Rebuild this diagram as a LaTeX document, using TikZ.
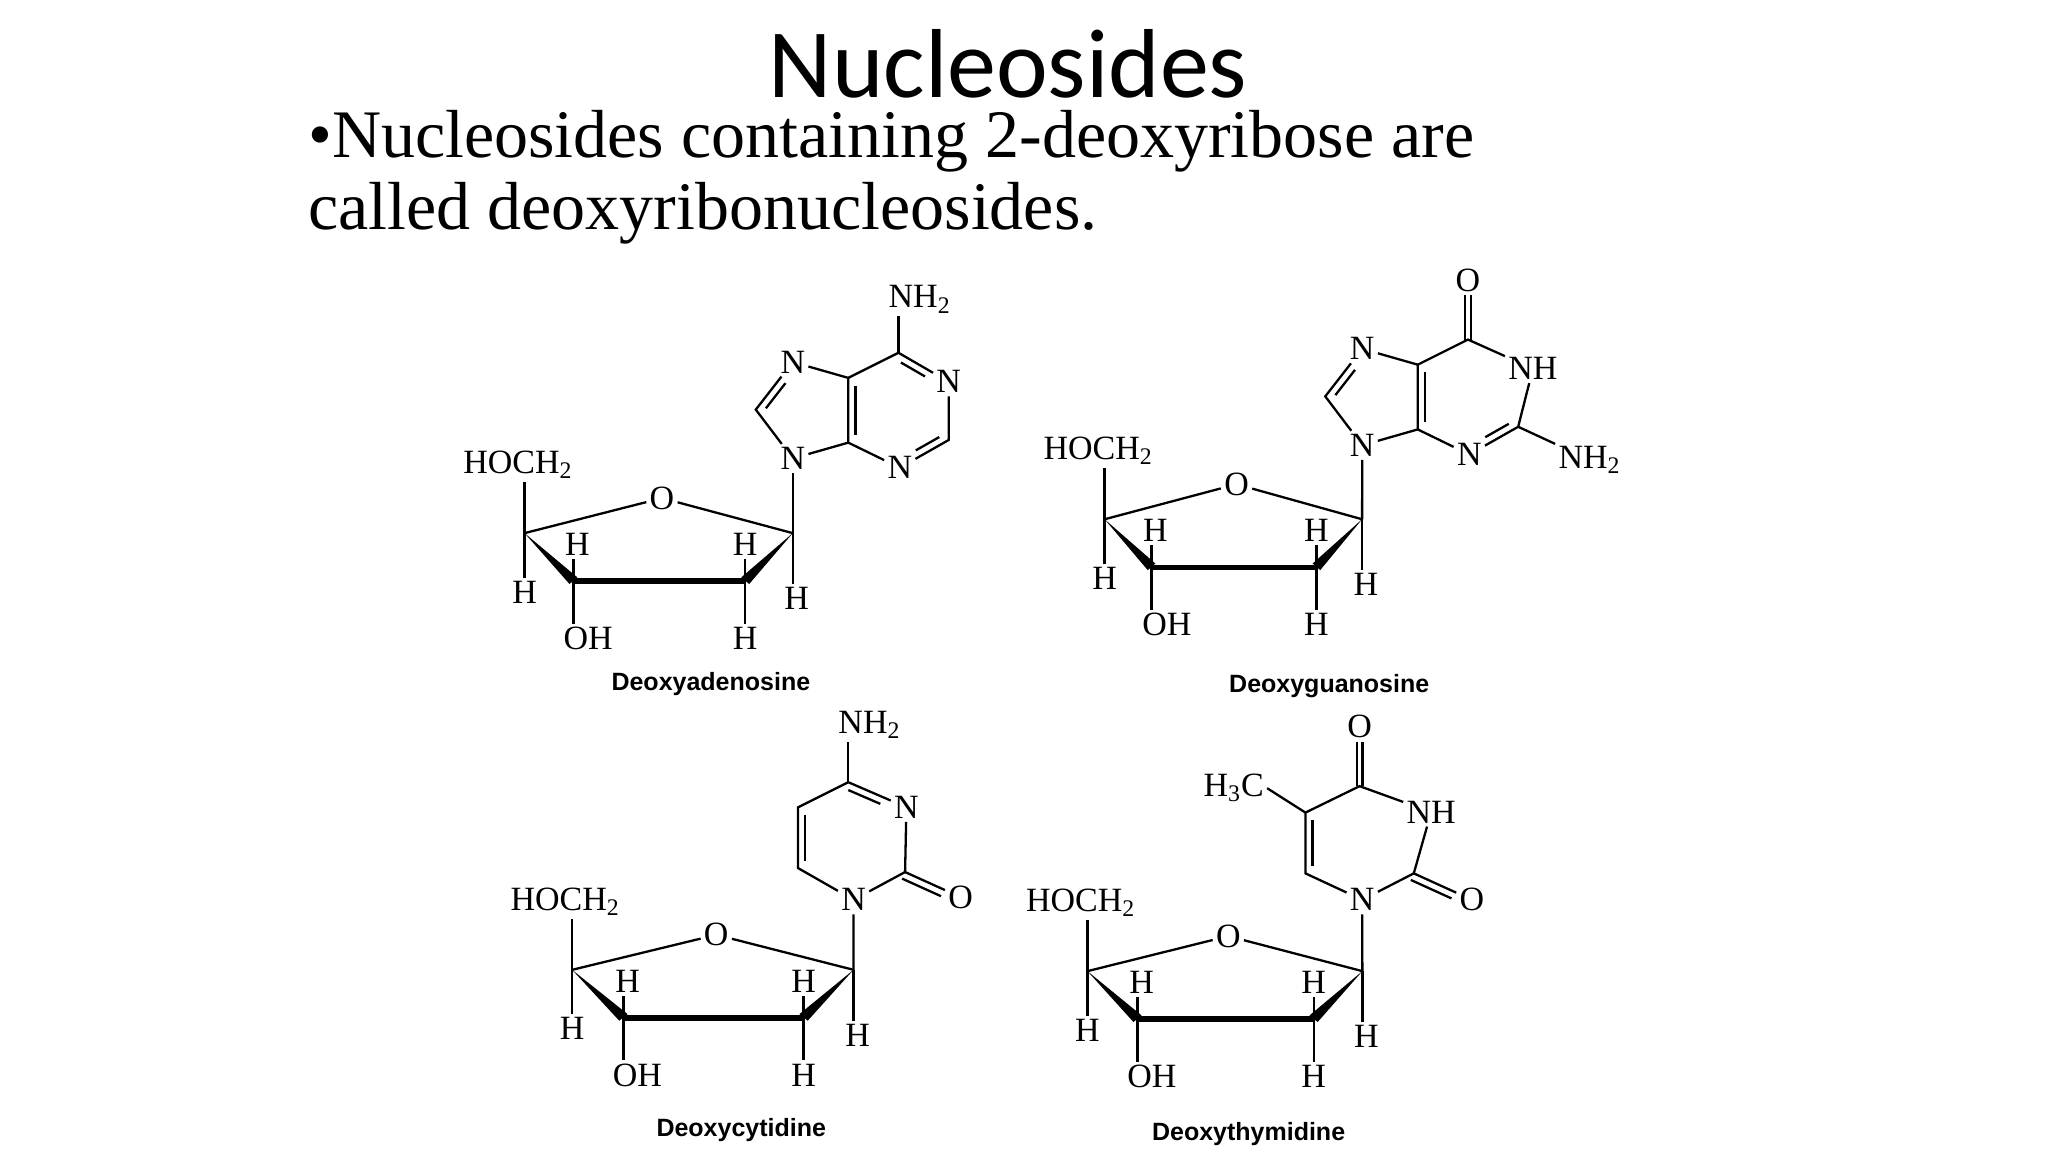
\documentclass[tikz,border=0pt]{standalone}
\usepackage{fontspec}
\setmainfont{Liberation Serif}
\newfontfamily\titlefont{Carlito}
\newfontfamily\labfont{Liberation Sans}
\usetikzlibrary{calc}
\newcommand\atomfont{\fontsize{17}{17}\selectfont}
\tikzset{
  atom/.style={font=\atomfont, inner sep=1.5pt},
  bond/.style={line width=1.15pt},
  thickbond/.style={line width=2.9pt},
  lab/.style={font=\labfont\bfseries\fontsize{12.5}{12.5}\selectfont},
}
% #1 a, #2 b, #3 angle, #4 frac at a, #5 frac at b
\newcommand\dbl[5]{\draw[bond] ($(#1)!#4!(#2)!3.6pt!#3:(#2)$) -- ($(#2)!#5!(#1)!3.6pt!-#3:(#1)$);}
\newcommand\sugar[4]{%
\begin{scope}[shift={(#2,#3)}, xscale=#4]
\coordinate (#1c4) at (0,0);
\node[atom] (#1O) at (104,-26.5) {O};
\coordinate (#1c1) at (203,0);
\coordinate (#1c3) at (37,36.5);
\coordinate (#1c2) at (167,36.5);
\node[atom,anchor=base] (#1hoch) at (-5,-45) {HOCH\textsubscript{2}};
\node[atom,anchor=base] (#1h4) at (0,53) {H};
\node[atom,anchor=base] (#1h3) at (40,17) {H};
\node[atom,anchor=base west] (#1oh) at (27,88) {OH};
\node[atom,anchor=base] (#1h2a) at (167,17) {H};
\node[atom,anchor=base] (#1h2b) at (167,88) {H};
\node[atom,anchor=base] (#1h1) at (206,58) {H};
\draw[bond] (#1c4) -- (#1O) -- (#1c1);
\fill (#1c4) -- (34,38.5) -- (40,33.5) -- cycle;
\fill (#1c1) -- (170,38.5) -- (164,33.5) -- cycle;
\draw[thickbond] (#1c3) -- (#1c2);
\draw[bond] (#1c4) -- (#1c4 |- #1hoch.south);
\draw[bond] (#1c4) -- (#1c4 |- #1h4.north);
\draw[bond] (#1c3) -- (#1c3 |- #1h3.south);
\draw[bond] (#1c3) -- (#1c3 |- #1oh.north);
\draw[bond] (#1c2) -- (#1c2 |- #1h2a.south);
\draw[bond] (#1c2) -- (#1c2 |- #1h2b.north);
\draw[bond] (#1c1) -- (#1c1 |- #1h1.north);
\end{scope}}
\begin{document}
\begin{tikzpicture}[x=0.6607pt,y=-0.6607pt]
\useasboundingbox (0,0) rectangle (1550,872);
\fill[white] (0,0) rectangle (1550,872);
% titles
\node[font=\titlefont\fontsize{49}{49}\selectfont, anchor=base, inner sep=0] (title) at (763,74) {Nucleosides};
\node[font=\fontsize{34}{34}\selectfont, anchor=base west, inner sep=0] (l1) at (233,119) {•Nucleosides containing 2-deoxyribose are};
\node[font=\fontsize{34}{34}\selectfont, anchor=base west, inner sep=0] (l2) at (233,174) {called deoxyribonucleosides.};

% ===== Deoxyadenosine
\sugar{a}{397}{403.5}{1}
\begin{scope}[shift={(600,347)}]
\node[atom] (aN9) at (0,0) {N};
\coordinate (aC8) at (-28,-37);
\node[atom] (aN7) at (0,-73) {N};
\coordinate (aC5) at (42,-61);
\coordinate (aC4) at (42,-12);
\coordinate (aC6) at (80,-80);
\node[atom,anchor=base west] (aNH2) at (70,-114) {NH\textsubscript{2}};
\node[atom] (aN1) at (118,-58) {N};
\coordinate (aC2) at (118,-14);
\node[atom] (aN3) at (81,7) {N};
\end{scope}
\draw[bond] (ac1) -- (aN9);
\draw[bond] (aN9) -- (aC8) -- (aN7) -- (aC5) -- (aC4) -- (aN9);
\draw[bond] (aC5) -- (aC6) -- (aN1) -- (aC2) -- (aN3) -- (aC4);
\draw[bond] (aC6) -- (aC6 |- aNH2.south);
\dbl{aC8}{aN7}{-90}{0.12}{0.35}
\dbl{aC5}{aC4}{90}{0.12}{0.12}
\dbl{aC6}{aN1}{-90}{0.12}{0.4}
\dbl{aC2}{aN3}{-90}{0.12}{0.4}
\node[lab] (alab) at (538,518) {Deoxyadenosine};

% ===== Deoxyguanosine
\sugar{g}{836}{393}{0.96}
\begin{scope}[shift={(1031,337)}]
\node[atom] (gN9) at (0,0) {N};
\coordinate (gC8) at (-28,-37);
\node[atom] (gN7) at (0,-73) {N};
\coordinate (gC5) at (42,-61);
\coordinate (gC4) at (42,-12);
\coordinate (gC6) at (80,-80);
\node[atom] (gO6) at (80,-125) {O};
\node[atom,anchor=west] (gN1) at (108,-58) {NH};
\coordinate (gC2) at (118,-14);
\node[atom] (gN3) at (81,7) {N};
\node[atom,anchor=west] (gNH2) at (146,11) {NH\textsubscript{2}};
\end{scope}
\draw[bond] (gc1) -- (gN9);
\draw[bond] (gN9) -- (gC8) -- (gN7) -- (gC5) -- (gC4) -- (gN9);
\draw[bond] (gC5) -- (gC6) -- (gN1) -- (gC2) -- (gN3) -- (gC4);
\draw[bond] (gC2) -- (gNH2);
\draw[bond] ($(gC6)+(-2.2,0)$) -- ($(gO6.south)+(-2.2,0)$);
\draw[bond] ($(gC6)+(2.2,0)$) -- ($(gO6.south)+(2.2,0)$);
\dbl{gC8}{gN7}{-90}{0.12}{0.35}
\dbl{gC5}{gC4}{90}{0.12}{0.12}
\dbl{gC2}{gN3}{-90}{0.12}{0.4}
\node[lab] (glab) at (1006,519) {Deoxyguanosine};

% ===== Deoxycytidine
\sugar{c}{433}{734}{1.049}
\begin{scope}[shift={(646,681)}]
\node[atom] (cN1) at (0,0) {N};
\coordinate (cC6) at (-42,-24);
\coordinate (cC5) at (-42,-70);
\coordinate (cC4) at (-4,-89);
\node[atom,anchor=base west] (cNH2) at (-14,-126) {NH\textsubscript{2}};
\node[atom] (cN3) at (40,-70) {N};
\coordinate (cC2) at (39,-21);
\node[atom] (cO2) at (81,-2) {O};
\end{scope}
\draw[bond] (cc1) -- (cN1);
\draw[bond] (cN1) -- (cC6) -- (cC5) -- (cC4) -- (cN3) -- (cC2) -- (cN1);
\draw[bond] (cC4) -- (cC4 |- cNH2.south);
\draw[bond] (cC2) -- (cO2);
\dbl{cC6}{cC5}{-90}{0.12}{0.12}
\dbl{cC4}{cN3}{-90}{0.05}{0.4}
\dbl{cC2}{cO2}{-90}{0.0}{0.3}
\node[lab] (clab) at (561,855) {Deoxycytidine};

% ===== Deoxythymidine
\sugar{t}{823}{735}{1.025}
\begin{scope}[shift={(1031,681)}]
\node[atom] (tN1) at (0,0) {N};
\coordinate (tC6) at (-43,-20);
\coordinate (tC5) at (-43,-66);
\coordinate (tC4) at (-2,-86);
\node[atom] (tO4) at (-2,-131) {O};
\node[atom,anchor=base west] (tN3) at (31,-58) {NH};
\coordinate (tC2) at (39,-20);
\node[atom] (tO2) at (83,0) {O};
\node[atom,anchor=base east] (tMe) at (-72,-78) {H\textsubscript{3}C};
\end{scope}
\draw[bond] (tc1) -- (tN1);
\draw[bond] (tN1) -- (tC6) -- (tC5) -- (tC4) -- (tN3) -- (tC2) -- (tN1);
\draw[bond] (tC5) -- (tMe.east);
\draw[bond] (tC2) -- (tO2);
\draw[bond] ($(tC4)+(-2.2,0)$) -- ($(tO4.south)+(-2.2,0)$);
\draw[bond] ($(tC4)+(2.2,0)$) -- ($(tO4.south)+(2.2,0)$);
\dbl{tC6}{tC5}{-90}{0.12}{0.12}
\dbl{tC2}{tO2}{-90}{0.0}{0.3}
\node[lab] (tlab) at (945,858) {Deoxythymidine};
\end{tikzpicture}
\end{document}
